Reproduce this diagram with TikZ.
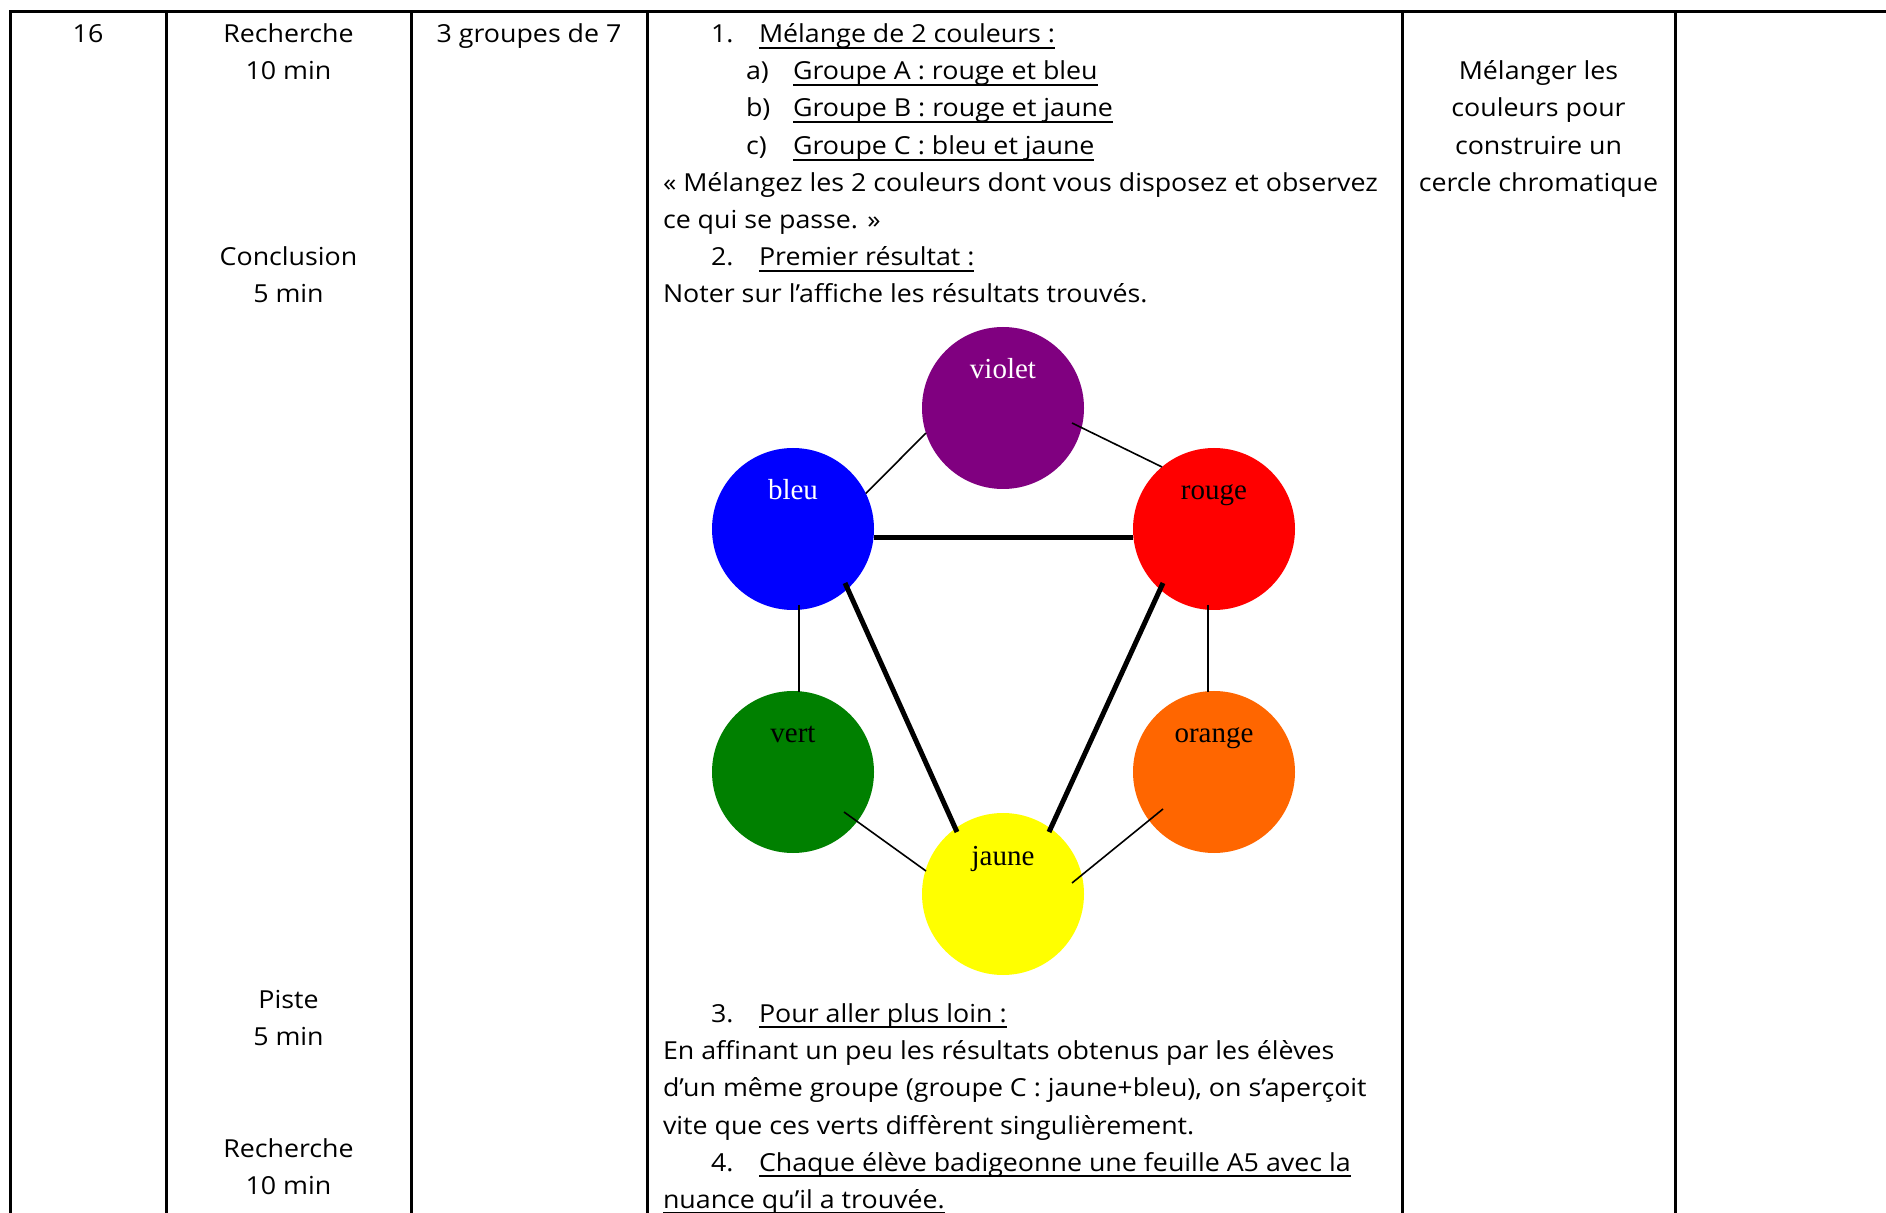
\documentclass[tikz,border=0pt]{standalone}
\usepackage{fontspec}
\setmainfont{Open Sans}[FakeStretch=1.08]
\newfontfamily\tnr{Liberation Serif}
\usetikzlibrary{calc}
\definecolor{cviolet}{HTML}{800080}
\definecolor{cbleu}{HTML}{0000FF}
\definecolor{crouge}{HTML}{FF0000}
\definecolor{cvert}{HTML}{008000}
\definecolor{corange}{HTML}{FF6600}
\definecolor{cjaune}{HTML}{FFFF00}
\newcommand{\ulx}[1]{\setbox0\hbox{#1}\rlap{\rule[-3pt]{\wd0}{1pt}}\box0}
\newcommand{\fs}{\fontsize{12.4}{14}\selectfont}
\begin{document}
\begin{tikzpicture}[x=0.5pt,y=-0.5pt,
  txt/.style={inner sep=0pt, outer sep=0pt, anchor=base, font=\fs},
  txtl/.style={txt, anchor=base west},
  gridline/.style={line width=1.5pt, line cap=rect},
  disc/.style={circle, inner sep=0pt, outer sep=0pt, minimum size=81pt, draw=none},
  clbl/.style={inner sep=0pt, anchor=base, font=\tnr\fontsize{14.5}{17}\selectfont},
  linkthin/.style={line width=0.8pt},
  linkthick/.style={line width=2.5pt}]
\useasboundingbox (0,0) rectangle (1886,1213);
\fill[white] (0,0) rectangle (1886,1213);
% table grid
\draw[gridline] (10,1220) -- (10,12) -- (1890,12);
\foreach \xx in {166,411,647,1402,1675} \draw[gridline] (\xx,12) -- (\xx,1220);
% column 1
\node[txt] (n16) at (88,43) {16};
% column 2
\node[txt] (c2a) at (288.5,43) {Recherche};
\node[txt] (c2b) at (288.5,80) {10 min};
\node[txt] (c2c) at (288.5,266) {Conclusion};
\node[txt] (c2d) at (288.5,303) {5 min};
\node[txt] (c2e) at (288.5,1008) {Piste};
\node[txt] (c2f) at (288.5,1045) {5 min};
\node[txt] (c2g) at (288.5,1157) {Recherche};
\node[txt] (c2h) at (288.5,1194) {10 min};
% column 3
\node[txt] (c3) at (529,43) {3 groupes de 7};
% column 4
\node[txtl] (n1) at (711,43) {1.};
\node[txtl] (t1) at (759,43) {\ulx{Mélange de 2 couleurs :}};
\node[txtl] (na) at (746,80) {a)};
\node[txtl] (ta) at (793,80) {\ulx{Groupe A : rouge et bleu}};
\node[txtl] (nb) at (746,117) {b)};
\node[txtl] (tb) at (793,117) {\ulx{Groupe B : rouge et jaune}};
\node[txtl] (nc) at (746,155) {c)};
\node[txtl] (tc) at (793,155) {\ulx{Groupe C : bleu et jaune}};
\node[txtl] (q1) at (663,192) {« Mélangez les 2 couleurs dont vous disposez et observez};
\node[txtl] (q2) at (663,229) {ce qui se passe. »};
\node[txtl] (n2) at (711,266) {2.};
\node[txtl] (t2) at (759,266) {\ulx{Premier résultat :}};
\node[txtl] (p2) at (663,303) {Noter sur l’affiche les résultats trouvés.};
\node[txtl] (n3) at (711,1022) {3.};
\node[txtl] (t3) at (759,1022) {\ulx{Pour aller plus loin :}};
\node[txtl] (p3a) at (663,1059) {En affinant un peu les résultats obtenus par les élèves};
\node[txtl] (p3b) at (663,1096) {d’un même groupe (groupe C : jaune+bleu), on s’aperçoit};
\node[txtl] (p3c) at (663,1134) {vite que ces verts diffèrent singulièrement.};
\node[txtl] (n4) at (711,1171) {4.};
\node[txtl] (t4a) at (759,1171) {\ulx{Chaque élève badigeonne une feuille A5 avec la}};
\node[txtl] (t4b) at (663,1208) {\ulx{nuance qu’il a trouvée.}};
% column 5
\node[txt] (c5a) at (1538.5,80) {Mélanger les};
\node[txt] (c5b) at (1538.5,117) {couleurs pour};
\node[txt] (c5c) at (1538.5,155) {construire un};
\node[txt] (c5d) at (1538.5,192) {cercle chromatique};
% colour circle
\node[disc, fill=cviolet] (violet) at (1003,408) {};
\node[disc, fill=cbleu] (bleu) at (793,529) {};
\node[disc, fill=crouge] (rouge) at (1214,529) {};
\node[disc, fill=cvert] (vert) at (793,772) {};
\node[disc, fill=corange] (orange) at (1214,772) {};
\node[disc, fill=cjaune] (jaune) at (1003,894) {};
\node[clbl, text=white] (lviolet) at ($(violet.center)+(0,-29)$) {violet};
\node[clbl, text=white] (lbleu) at ($(bleu.center)+(0,-29)$) {bleu};
\node[clbl] (lrouge) at ($(rouge.center)+(0,-29)$) {rouge};
\node[clbl] (lvert) at ($(vert.center)+(0,-29)$) {vert};
\node[clbl] (lorange) at ($(orange.center)+(0,-29)$) {orange};
\node[clbl] (ljaune) at ($(jaune.center)+(0,-29)$) {jaune};
% connector end points
\coordinate (vr1) at ($(violet.center)+(69,15)$);
\coordinate (bj1) at ($(bleu.center)+(52,54)$);
\coordinate (bj2) at ($(jaune.center)+(-46,-62)$);
\coordinate (rj1) at ($(rouge.center)+(-51,54)$);
\coordinate (rj2) at ($(jaune.center)+(46,-62)$);
\coordinate (bv1) at ($(bleu.center)+(6,76)$);
\coordinate (bv2) at ($(vert.center)+(6,-80)$);
\coordinate (ro1) at ($(rouge.center)+(-6,76)$);
\coordinate (ro2) at ($(orange.center)+(-6,-80)$);
\coordinate (vj1) at ($(vert.center)+(51,40)$);
\coordinate (vj2) at ($(jaune.center)+(-77,-23)$);
\coordinate (oj1) at ($(orange.center)+(-51,37)$);
\coordinate (oj2) at ($(jaune.center)+(69,-11)$);
% connectors
\draw[linkthin] (bleu.26) -- (violet.198);
\draw[linkthin] (vr1) -- (rouge.130);
\draw[linkthick] (bleu.-6) -- (rouge.186);
\draw[linkthick] (bj1) -- (bj2);
\draw[linkthick] (rj1) -- (rj2);
\draw[linkthin] (bv1) -- (bv2);
\draw[linkthin] (ro1) -- (ro2);
\draw[linkthin] (vj1) -- (vj2);
\draw[linkthin] (oj1) -- (oj2);
\end{tikzpicture}
\end{document}
